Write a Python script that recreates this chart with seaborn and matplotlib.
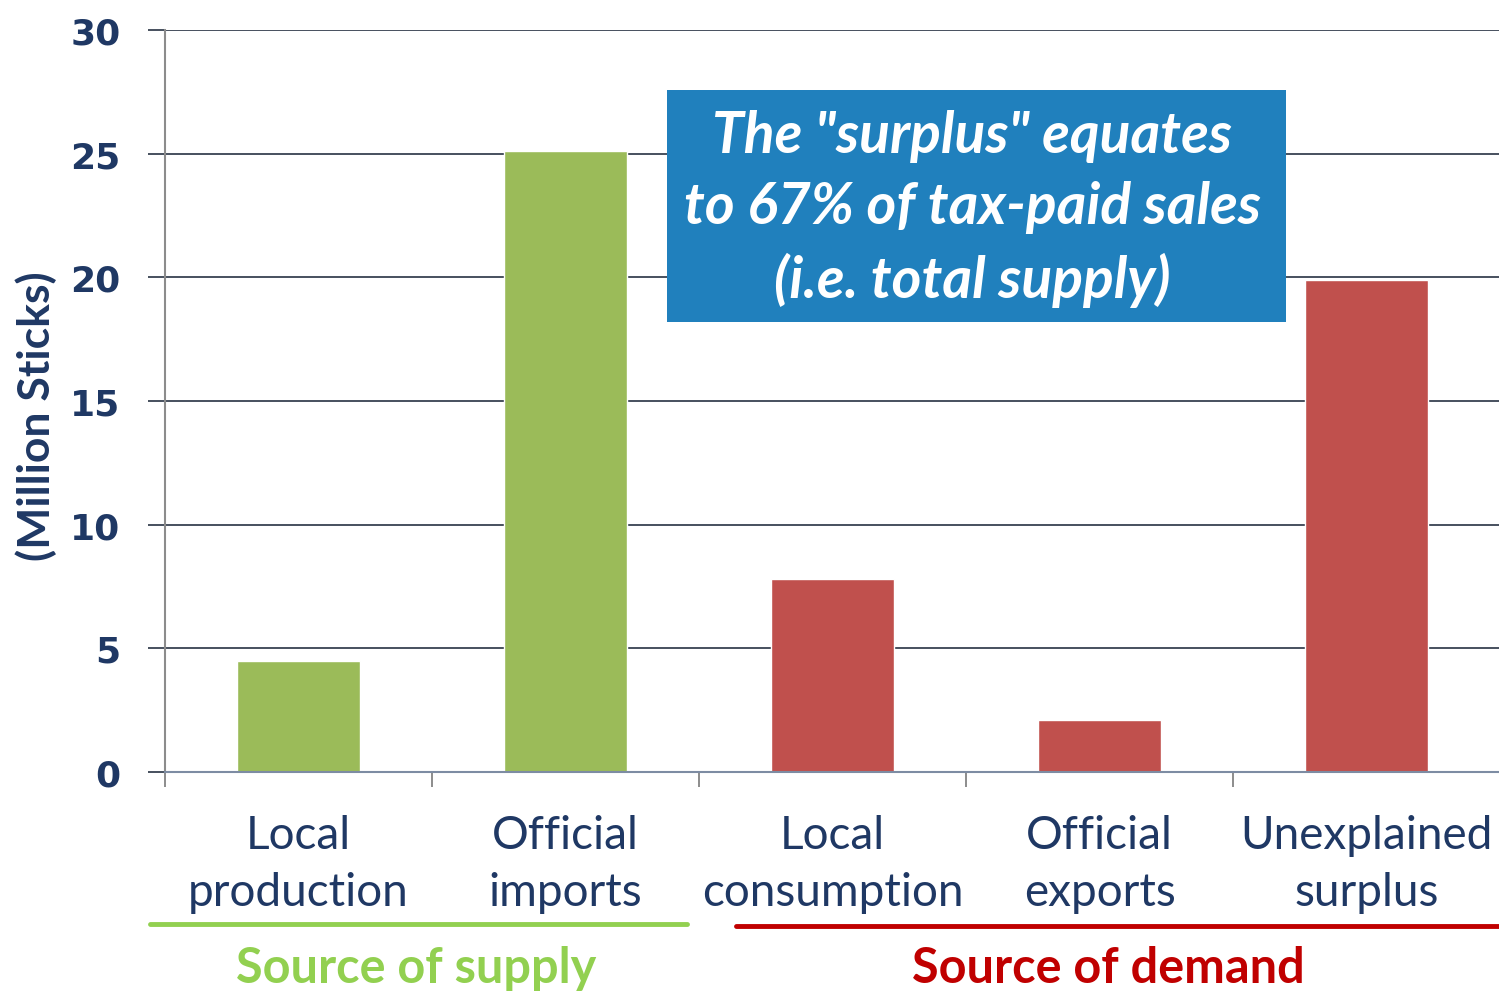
import matplotlib
matplotlib.use("Agg")
import matplotlib.pyplot as plt
from matplotlib.patches import Rectangle
from matplotlib.lines import Line2D
from matplotlib.ticker import FixedLocator
import seaborn as sns
import pandas as pd

categories = ["Local\nproduction", "Official\nimports", "Local\nconsumption",
              "Official\nexports", "Unexplained\nsurplus"]
values = [4.5, 25.1, 7.8, 2.1, 19.9]
groups = ["supply", "supply", "demand", "demand", "demand"]
bar_colors = ["#9bbb59", "#9bbb59", "#c0504d", "#c0504d", "#c0504d"]
y_ticks = [0, 5, 10, 15, 20, 25, 30]

navy = "#1f3864"
sns.set_style("white")
plt.rcParams["font.family"] = ["Lato", "DejaVu Sans"]

df = pd.DataFrame({"cat": categories, "val": values})

fig = plt.figure(figsize=(14.99, 9.95), dpi=100)
ax = fig.add_axes([165 / 1499, 1 - 773 / 995, 1335 / 1499, (773 - 31) / 995])

sns.barplot(data=df, x="cat", y="val", hue="cat", palette=bar_colors,
            width=0.46, legend=False, ax=ax, saturation=1)

ax.set_xlim(-0.5, 4.5)
ax.set_ylim(0, 30)
ax.set_yticks(y_ticks)
ax.yaxis.grid(True, color="#46505e", linewidth=1.4)
ax.set_axisbelow(True)

for s in ["top", "right"]:
    ax.spines[s].set_visible(False)
ax.spines["left"].set_color("#8c8c8c")
ax.spines["left"].set_linewidth(1.5)
ax.spines["bottom"].set_color("#7d8ca3")
ax.spines["bottom"].set_linewidth(1.5)

# y ticks
ax.tick_params(axis="y", length=12, width=1.4, color="#46505e", pad=20,
               labelsize=26, labelcolor=navy, left=True)
for lab in ax.get_yticklabels():
    lab.set_family("DejaVu Sans")
    lab.set_fontweight("bold")

# x ticks: labels at centres, tick marks at boundaries
ax.set_xlabel("")
ax.set_xticks(range(len(categories)))
ax.set_xticklabels(categories, fontsize=33, color=navy, linespacing=1.45)
ax.tick_params(axis="x", which="major", length=0, pad=30)
ax.xaxis.set_minor_locator(FixedLocator([-0.5, 0.5, 1.5, 2.5, 3.5, 4.5]))
ax.tick_params(axis="x", which="minor", length=11, width=1.4,
               color="#8c8c8c", bottom=True)

ax.set_ylabel("(Million Sticks)", fontsize=32, fontweight="bold", color=navy)
ax.yaxis.set_label_coords(-0.081, 0.481)

# annotation box
fig.patches.append(Rectangle((667 / 1499, 1 - 323 / 995), 619 / 1499, 232 / 995,
                             transform=fig.transFigure, facecolor="#2080bd",
                             edgecolor="none", zorder=5))
fig.text(972 / 1499, 1 - 209 / 995,
         "The \"surplus\" equates\nto 67% of tax-paid sales\n(i.e. total supply)",
         ha="center", va="center", color="white", fontsize=41,
         fontweight="bold", fontstyle="italic", linespacing=1.41, zorder=6)

# group underlines and labels
fig.add_artist(Line2D([150 / 1499, 687 / 1499], [1 - 925 / 995] * 2,
                      color="#92d050", linewidth=3.5))
fig.add_artist(Line2D([736 / 1499, 1.0], [1 - 927 / 995] * 2,
                      color="#c00000", linewidth=3.5))
fig.text(416 / 1499, 1 - 983 / 995, "Source of supply", ha="center", va="baseline",
         color="#92d050", fontsize=35, fontweight="bold")
fig.text(1108 / 1499, 1 - 983 / 995, "Source of demand", ha="center", va="baseline",
         color="#c00000", fontsize=35, fontweight="bold")

fig.savefig("out.png", dpi=100)
